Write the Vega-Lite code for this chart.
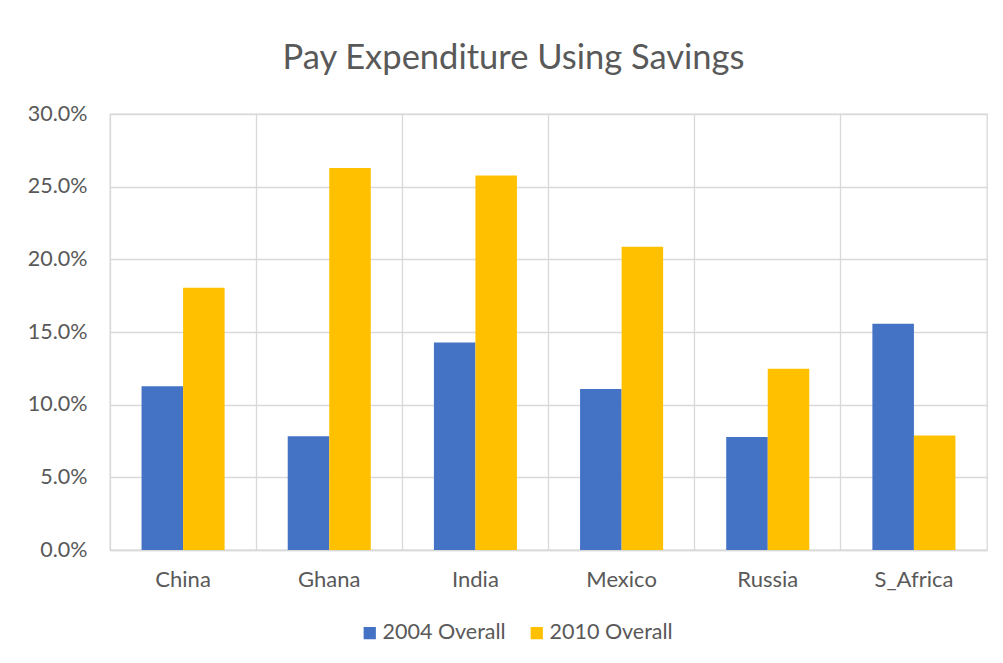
{
  "$schema": "https://vega.github.io/schema/vega-lite/v6.json",
  "width": 877,
  "height": 436,
  "autosize": "none",
  "padding": {"left": 110, "top": 114, "right": 16, "bottom": 113},
  "background": "white",
  "title": {
    "text": "Pay Expenditure Using Savings",
    "font": "Lato",
    "fontSize": 34.5,
    "fontWeight": "normal",
    "color": "#595959",
    "anchor": "middle",
    "dx": -35,
    "offset": 27
  },
  "data": {
    "values": [
      {"Country": "China", "Series": "2004 Overall", "Value": 0.1126},
      {"Country": "China", "Series": "2010 Overall", "Value": 0.1805},
      {"Country": "Ghana", "Series": "2004 Overall", "Value": 0.0783},
      {"Country": "Ghana", "Series": "2010 Overall", "Value": 0.2629},
      {"Country": "India", "Series": "2004 Overall", "Value": 0.1428},
      {"Country": "India", "Series": "2010 Overall", "Value": 0.2577},
      {"Country": "Mexico", "Series": "2004 Overall", "Value": 0.1107},
      {"Country": "Mexico", "Series": "2010 Overall", "Value": 0.2087},
      {"Country": "Russia", "Series": "2004 Overall", "Value": 0.0778},
      {"Country": "Russia", "Series": "2010 Overall", "Value": 0.1247},
      {"Country": "S_Africa", "Series": "2004 Overall", "Value": 0.1556},
      {"Country": "S_Africa", "Series": "2010 Overall", "Value": 0.0787}
    ]
  },
  "mark": {"type": "bar"},
  "encoding": {
    "x": {
      "field": "Country",
      "type": "nominal",
      "sort": null,
      "scale": {"paddingInner": 0, "paddingOuter": 0},
      "axis": {
        "title": null,
        "labelAngle": 0,
        "grid": true,
        "gridColor": "#d9d9d9",
        "gridWidth": 1.3,
        "bandPosition": 0,
        "ticks": false,
        "domain": true,
        "domainColor": "#d9d9d9",
        "domainWidth": 1.3,
        "labelFont": "Lato",
        "labelFontSize": 22,
        "labelColor": "#595959",
        "labelPadding": 19
      }
    },
    "xOffset": {
      "field": "Series",
      "type": "nominal",
      "scale": {"paddingOuter": 0.76, "paddingInner": 0}
    },
    "y": {
      "field": "Value",
      "type": "quantitative",
      "scale": {"domain": [0, 0.3], "nice": false},
      "axis": {
        "title": null,
        "format": ".1%",
        "values": [0, 0.05, 0.1, 0.15, 0.2, 0.25, 0.3],
        "domain": false,
        "ticks": false,
        "grid": true,
        "gridColor": "#d9d9d9",
        "gridWidth": 1.3,
        "labelFont": "Lato",
        "labelFontSize": 21.5,
        "labelColor": "#595959",
        "labelPadding": 23
      }
    },
    "color": {
      "field": "Series",
      "type": "nominal",
      "scale": {"range": ["#4472C4", "#FFC000"]},
      "legend": {
        "title": null,
        "orient": "none",
        "direction": "horizontal",
        "legendX": 249,
        "legendY": 508,
        "symbolType": "square",
        "symbolSize": 150,
        "symbolStrokeWidth": 0,
        "labelFont": "Lato",
        "labelFontSize": 21.5,
        "labelColor": "#595959",
        "columnPadding": 20,
        "labelOffset": 2
      }
    }
  },
  "config": {
    "view": {"stroke": "#d9d9d9", "strokeWidth": 1.3}
  }
}
